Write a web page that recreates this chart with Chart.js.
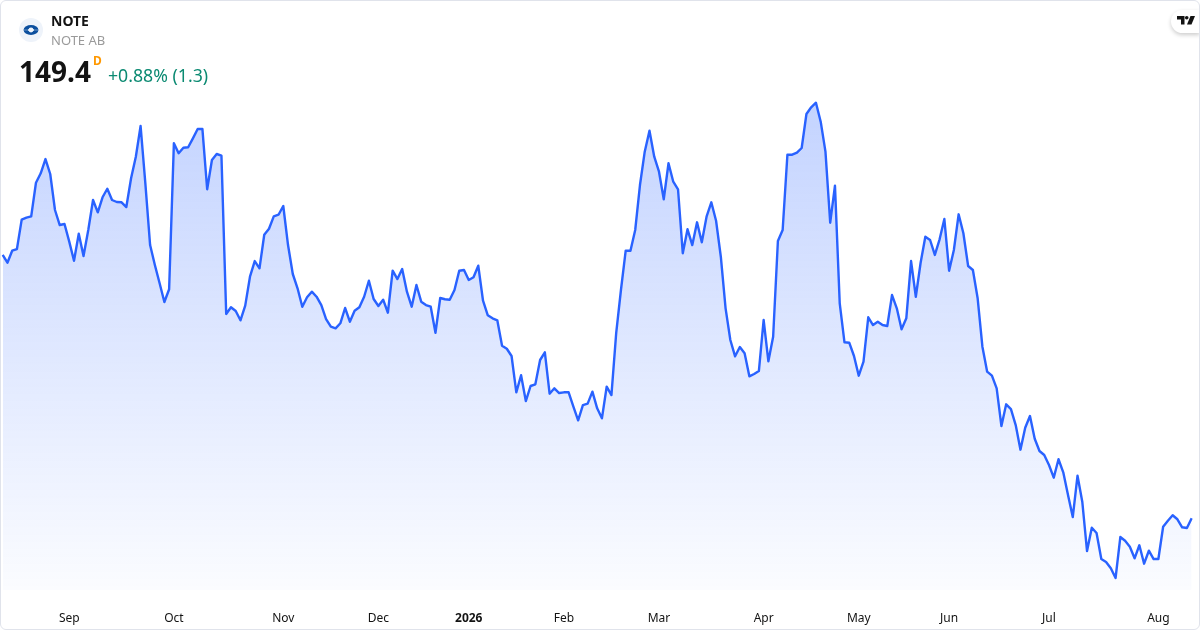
<!DOCTYPE html>
<html><head><meta charset="utf-8">
<script src="https://cdn.jsdelivr.net/npm/chart.js@4"></script>
<style>
html,body{margin:0;padding:0;background:#fff;width:1200px;height:630px;overflow:hidden;font-family:"Noto Sans",sans-serif}
#wrap{position:relative;width:1200px;height:630px}
#frame{position:absolute;left:0;top:0;width:1198px;height:628px;border:1px solid #e0e3eb;border-radius:6px;pointer-events:none;z-index:3}
canvas{position:absolute;left:0;top:0}
.t{position:absolute;white-space:nowrap;z-index:2}
#logo{position:absolute;left:19px;top:18px;width:24px;height:24px;z-index:2}
#tv{position:absolute;left:1171px;top:10px;width:29px;height:23px;background:#fff;border-radius:12px 0 0 12px;box-shadow:0 2px 4px rgba(0,0,0,.2);z-index:2}
</style></head><body>
<div id="wrap">
<canvas id="c" width="1200" height="630"></canvas>
<div id="frame"></div>
<svg id="logo" viewBox="0 0 24 24"><circle cx="12" cy="12" r="12" fill="#eef3fa"/><ellipse cx="12" cy="12" rx="7.4" ry="5" fill="#0b4f9e"/><rect x="3" y="11" width="18" height="2" fill="#eef3fa"/><circle cx="12" cy="12" r="2.4" fill="#eef3fa"/><rect x="4.6" y="11.2" width="4.6" height="1.6" fill="#0b4f9e"/><rect x="14.8" y="11.2" width="4.6" height="1.6" fill="#0b4f9e"/></svg>
<div class="t" style="left:51px;top:12px;font-size:14px;font-weight:700;color:#131313;line-height:18px">NOTE</div>
<div class="t" style="left:51px;top:31px;font-size:13px;color:#9a9a9a;line-height:18px">NOTE AB</div>
<div class="t" style="left:19px;top:53px;font-size:28px;font-weight:700;color:#131313;line-height:36px">149.4</div>
<div class="t" style="left:93px;top:53px;font-size:12px;font-weight:700;color:#ff9800;line-height:16px">D</div>
<div class="t" style="left:108px;top:64px;font-size:17.7px;color:#0b8a72;line-height:22px">+0.88% (1.3)</div>
<div id="tv"><svg style="position:absolute;left:6px;top:6px" width="18" height="9" viewBox="0 0 36 18"><path d="M0 0h15v17H8V7H0z" fill="#131313"/><circle cx="19.5" cy="3.6" r="3.6" fill="#131313"/><path d="M27 0h9l-7 17h-9z" fill="#131313"/></svg></div>
</div>
<script>
const values=[182.32,181.35,182.85,183.06,186.73,186.98,187.15,191.35,192.53,194.31,
192.44,187.94,186.06,186.19,183.98,181.6,184.98,182.19,185.44,189.19,
187.65,189.53,190.6,189.19,188.94,188.9,188.31,191.9,194.6,198.44,
191.28,183.56,181.06,178.78,176.44,178.03,196.28,195.03,195.73,195.78,
196.9,198.06,198.06,190.53,194.19,194.94,194.73,174.94,175.78,175.31,
174.15,175.98,179.6,181.56,180.65,184.85,185.6,187.15,187.35,188.44,
183.56,179.94,178.15,175.85,177.03,177.73,177.1,176.06,174.31,173.35,
173.15,173.78,175.69,173.98,175.35,175.78,177.1,179.1,176.81,175.94,
176.73,175.1,180.35,179.31,180.56,177.73,175.85,178.56,176.48,176.06,
175.85,172.6,176.94,176.78,176.73,177.94,180.35,180.44,179.19,179.53,
180.98,176.6,174.78,174.4,174.15,170.98,170.6,169.69,165.15,167.28,
164.06,165.94,166.15,169.19,170.15,164.98,165.65,165.06,165.15,165.15,
163.35,161.65,163.56,163.73,165.23,163.15,161.9,165.85,164.81,172.56,
177.94,182.85,182.85,185.44,191.06,195.23,197.85,194.6,192.73,189.28,
193.78,191.48,190.53,182.53,185.53,183.56,186.4,183.9,187.1,188.9,
186.6,182.1,175.65,171.69,169.65,170.81,170.03,167.15,167.44,167.81,
174.19,169.03,172.1,184.06,185.44,194.85,194.85,195.1,195.69,199.94,
200.78,201.35,198.98,195.23,186.35,190.98,176.28,171.4,171.35,169.69,
167.23,168.98,174.53,173.56,173.98,173.56,173.44,177.31,175.65,173.03,
174.4,181.56,177.1,181.31,184.6,184.19,182.32,184.28,186.81,180.35,
182.94,187.4,185.03,180.94,180.44,176.9,170.85,167.73,167.23,165.65,
160.94,163.65,163.06,161.06,157.98,160.73,162.19,159.35,157.81,157.31,
156.06,154.48,156.78,155.15,152.31,149.56,154.73,151.48,145.31,148.23,
147.56,144.31,143.94,143.15,141.94,147.06,146.6,145.85,144.4,146.03,
143.73,145.35,144.31,144.31,148.35,149.1,149.78,149.28,148.28,148.19,149.4];
const tickNames=["Sep","Oct","Nov","Dec","2026","Feb","Mar","Apr","May","Jun","Jul","Aug"];
const tickIndex=[14,36,59,79,98,118,138,160,180,199,220,243];
const categories=values.map((v,i)=>{const k=tickIndex.indexOf(i);return k>=0?tickNames[k]:"";});

new Chart(document.getElementById("c"),{
  type:"line",
  data:{labels:categories,datasets:[{
    data:values,
    borderColor:"#2962ff",
    borderWidth:2.4,
    borderJoinStyle:"round",
    tension:0,
    pointRadius:0,
    fill:"start",
    backgroundColor(ctx){
      const a=ctx.chart.chartArea;
      if(!a)return "rgba(41,98,255,.2)";
      const g=ctx.chart.ctx.createLinearGradient(0,102,0,a.bottom);
      g.addColorStop(0,"rgba(41,98,255,0.28)");
      g.addColorStop(1,"rgba(41,98,255,0.02)");
      return g;
    }
  }]},
  options:{
    responsive:false,animation:false,devicePixelRatio:1,
    layout:{padding:{left:2.67,right:8.33,top:0,bottom:0}},
    plugins:{legend:{display:false},tooltip:{enabled:false},title:{display:false}},
    scales:{
      x:{
        afterFit(s){s.height=40;},
        grid:{display:false,drawTicks:false},border:{display:false},
        ticks:{
          autoSkip:false,maxRotation:0,minRotation:0,padding:21,
          align:"center",color:"#131313",
          callback(v,i){return categories[i]||null;},
          font(ctx){return {family:"'Noto Sans',sans-serif",size:12,weight:ctx.tick&&ctx.tick.label==="2026"?"700":"400"};}
        }
      },
      y:{display:false,min:140.44,max:214.19}
    }
  }
});
</script>
</body></html>
